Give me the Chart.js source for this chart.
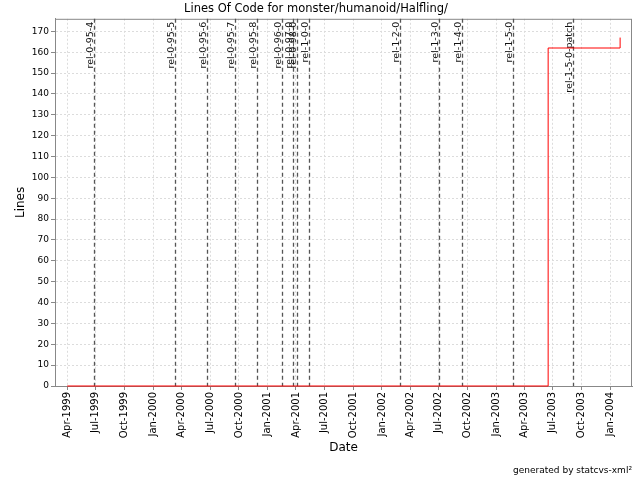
<!DOCTYPE html>
<html>
<head>
<meta charset="utf-8">
<title>Lines Of Code</title>
<script src="https://cdn.jsdelivr.net/npm/chart.js@4/dist/chart.umd.min.js"></script>
<style>
    html, body { margin: 0; padding: 0; background: #fff; }
    #wrap { width: 640px; height: 480px; }
</style>
</head>
<body>
<div id="wrap"><canvas id="locChart" width="640" height="480"></canvas></div>
<script>
// Lines of code over time (stepped)
const locDates = ['1999-04-01', '2003-06-16', '2004-02-01'];
const locValues = [0, 162, 167];

// Symbolic tags shown as dashed markers
const tagNames = ['rel-0-95-4', 'rel-0-95-5', 'rel-0-95-6', 'rel-0-95-7', 'rel-0-95-8',
    'rel-0-96-0', 'rel-0-97-0', 'rel-0-98-0', 'rel-1-0-0', 'rel-1-2-0',
    'rel-1-3-0', 'rel-1-4-0', 'rel-1-5-0', 'rel-1-5-0-patch'];
const tagDates = ['1999-06-26', '2000-03-10', '2000-06-20', '2000-09-18', '2000-11-26',
    '2001-02-14', '2001-03-22', '2001-04-04', '2001-05-14', '2002-03-01',
    '2002-07-03', '2002-09-13', '2003-02-25', '2003-09-05'];

// Date axis range and quarterly ticks
const xMinDate = '1999-02-21';
const xMaxDate = '2004-03-10';
const tickDates = ['1999-04-01', '1999-07-01', '1999-10-01', '2000-01-01', '2000-04-01',
    '2000-07-01', '2000-10-01', '2001-01-01', '2001-04-01', '2001-07-01', '2001-10-01',
    '2002-01-01', '2002-04-01', '2002-07-01', '2002-10-01', '2003-01-01', '2003-04-01',
    '2003-07-01', '2003-10-01', '2004-01-01'];
const tickLabels = ['Apr-1999', 'Jul-1999', 'Oct-1999', 'Jan-2000', 'Apr-2000',
    'Jul-2000', 'Oct-2000', 'Jan-2001', 'Apr-2001', 'Jul-2001', 'Oct-2001',
    'Jan-2002', 'Apr-2002', 'Jul-2002', 'Oct-2002', 'Jan-2003', 'Apr-2003',
    'Jul-2003', 'Oct-2003', 'Jan-2004'];

// Lines axis
const yMax = 176;
const yTicks = [0, 10, 20, 30, 40, 50, 60, 70, 80, 90, 100, 110, 120, 130, 140, 150, 160, 170];

const FONT = 'DejaVu Sans';

// day number from 'YYYY-MM-DD'
function toDay(s) {
    const p = s.split('-').map(Number);
    return Date.UTC(p[0], p[1] - 1, p[2]) / 86400000;
}

// Plot frame + tag markers
const tagPlugin = {
    id: 'tags',
    beforeDatasetsDraw(chart) {
        const ctx = chart.ctx;
        const area = chart.chartArea;
        const xs = chart.scales.x;

        ctx.save();
        ctx.strokeStyle = '#888';
        ctx.lineWidth = 1;
        ctx.strokeRect(area.left + 0.5, area.top + 0.5, area.right - area.left - 1, area.bottom - area.top);

        tagDates.forEach(function(d, i) {
            const x = Math.round(xs.getPixelForValue(toDay(d))) + 0.5;
            ctx.strokeStyle = '#555';
            ctx.lineWidth = 1.3;
            ctx.setLineDash([4, 3]);
            ctx.beginPath();
            ctx.moveTo(x, area.top);
            ctx.lineTo(x, area.bottom);
            ctx.stroke();
            ctx.setLineDash([]);

            ctx.save();
            ctx.translate(x - 2, area.top + 3);
            ctx.rotate(-Math.PI / 2);
            ctx.fillStyle = '#111';
            ctx.font = '9.5px "' + FONT + '"';
            ctx.textAlign = 'right';
            ctx.textBaseline = 'alphabetic';
            ctx.fillText(tagNames[i], 0, 0);
            ctx.restore();
        });
        ctx.restore();
    },
    afterDraw(chart) {
        const ctx = chart.ctx;
        ctx.save();
        ctx.fillStyle = '#000';
        ctx.font = '9px "' + FONT + '"';
        ctx.textAlign = 'right';
        ctx.textBaseline = 'middle';
        ctx.fillText('generated by statcvs-xml\u00b2', 632, 471);
        ctx.restore();
    }
};

const ctx = document.getElementById('locChart').getContext('2d');
const locChart = new Chart(ctx, {
    type: 'line',
    data: {
        datasets: [{
            label: 'Lines',
            data: locDates.map(function(d, i) { return { x: toDay(d), y: locValues[i] }; }),
            borderColor: '#ff0000',
            borderWidth: 1,
            pointRadius: 0,
            stepped: 'before',
            fill: false,
            clip: false
        }]
    },
    options: {
        responsive: false,
        animation: false,
        devicePixelRatio: 1,
        layout: { padding: { left: 0, right: 8, top: 0, bottom: 24 } },
        plugins: {
            legend: { display: false },
            tooltip: { enabled: false },
            title: {
                display: true,
                text: 'Lines Of Code for monster/humanoid/Halfling/',
                color: '#000',
                font: { family: FONT, size: 11.5, weight: 'normal' },
                padding: { top: 2, bottom: 3 }
            }
        },
        scales: {
            x: {
                type: 'linear',
                min: toDay(xMinDate),
                max: toDay(xMaxDate),
                afterBuildTicks: function(scale) {
                    scale.ticks = tickDates.map(function(d) { return { value: toDay(d) }; });
                },
                afterFit: function(scale) { scale.height = 70; },
                ticks: {
                    autoSkip: false,
                    minRotation: 90,
                    maxRotation: 90,
                    padding: 2,
                    color: '#000',
                    font: { family: FONT, size: 10 },
                    callback: function(v, i) { return tickLabels[i]; }
                },
                grid: { color: '#dcdcdc', tickColor: '#888', tickLength: 4, tickBorderDash: [] },
                border: { display: true, color: '#888', dash: [2, 2] },
                title: {
                    display: true,
                    text: 'Date',
                    color: '#000',
                    font: { family: FONT, size: 12 },
                    padding: { top: 0, bottom: 1 }
                }
            },
            y: {
                min: 0,
                max: yMax,
                afterBuildTicks: function(scale) {
                    scale.ticks = yTicks.map(function(v) { return { value: v }; });
                },
                afterFit: function(scale) { scale.width = 55; },
                ticks: {
                    padding: 2,
                    color: '#000',
                    font: { family: FONT, size: 9 }
                },
                grid: { color: '#dcdcdc', tickColor: '#888', tickLength: 4, tickBorderDash: [] },
                border: { display: true, color: '#888', dash: [2, 2] },
                title: {
                    display: true,
                    text: 'Lines',
                    color: '#000',
                    font: { family: FONT, size: 12 },
                    padding: { top: 14, bottom: 0 }
                }
            }
        }
    },
    plugins: [tagPlugin]
});
</script>
</body>
</html>
